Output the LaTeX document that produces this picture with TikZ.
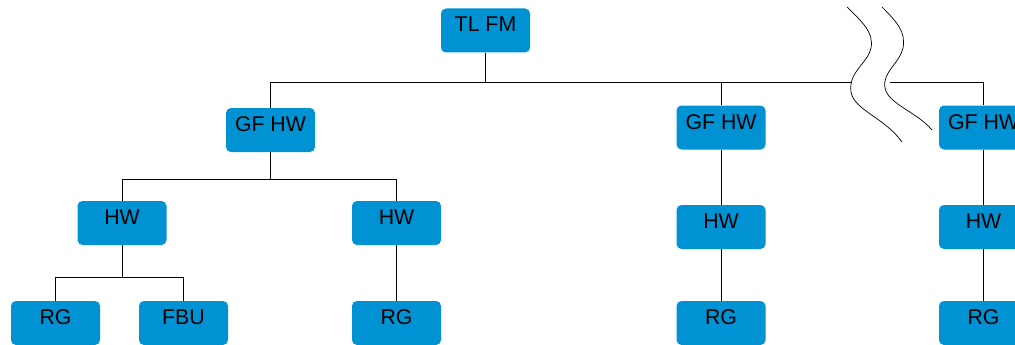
\documentclass[tikz,border=0pt]{standalone}
\usepackage{fontspec}
\setmainfont{Liberation Sans}
\definecolor{boxblue}{RGB}{0,146,210}
\tikzset{
  box/.style={fill=boxblue,rounded corners=5pt,minimum width=89pt,minimum height=44pt,
    inner sep=0pt,text height=15pt,text depth=12pt},
  wire/.style={line width=0.7pt}
}
\begin{document}
\begin{tikzpicture}[x=1pt,y=-1pt,font=\fontsize{21.3}{25}\selectfont]
\useasboundingbox (0,0) rectangle (1015,345);
\clip (0,0) rectangle (1015,345);

%vertice
\coordinate (j0) at (485.5,82);
\coordinate (bl) at (852,82);
\coordinate (br) at (890,82);
\coordinate (j1) at (270.5,179);
\coordinate (j2) at (122,277);

\node[box] (tl) at (485.5,30.5) {TL FM};

%livello 1
\node[box] (gfa) at (270.5,130) {GF HW};
\node[box] (gfb) at (721,127.5) {GF HW};
\node[box] (gfc) at (983.5,127.5) {GF HW};

%livello 2
\node[box] (hwa) at (122,223) {HW};
\node[box] (hwb) at (396.5,223) {HW};
\node[box] (hwc) at (721,227) {HW};
\node[box] (hwd) at (983.5,227) {HW};

%livello 3
\node[box] (rga) at (55.5,323) {RG};
\node[box] (fbu) at (183.5,323) {FBU};
\node[box] (rgb) at (396.5,323) {RG};
\node[box] (rgc) at (721,323) {RG};
\node[box] (rgd) at (983.5,323) {RG};

\draw[wire] (tl.south) -- (j0);
\draw[wire] (gfa.north) |- (bl);
\draw[wire] (gfb.north) -- (gfb.north |- bl);
\draw[wire] (br) -| (gfc.north);

\draw[wire] (gfa.south) -- (j1);
\draw[wire] (j1) -| (hwa.north);
\draw[wire] (j1) -| (hwb.north);
\draw[wire] (gfb.south) -- (hwc.north);
\draw[wire] (gfc.south) -- (hwd.north);

\draw[wire] (hwa.south) -- (j2);
\draw[wire] (j2) -| (rga.north);
\draw[wire] (j2) -| (fbu.north);
\draw[wire] (hwb.south) -- (rgb.north);
\draw[wire] (hwc.south) -- (rgc.north);
\draw[wire] (hwd.south) -- (rgd.north);

%interruzione
\draw[wire] (847,7) .. controls (862,22) and (874,32) .. (871,48)
  .. controls (868,63) and (848,72) .. (851,92)
  .. controls (854,110) and (885,118) .. (902,142);
\draw[wire] (882,7) .. controls (897,22) and (906,32) .. (903,48)
  .. controls (900,63) and (882,72) .. (885,88)
  .. controls (888,104) and (917,112) .. (932,130);

\end{tikzpicture}
\end{document}
